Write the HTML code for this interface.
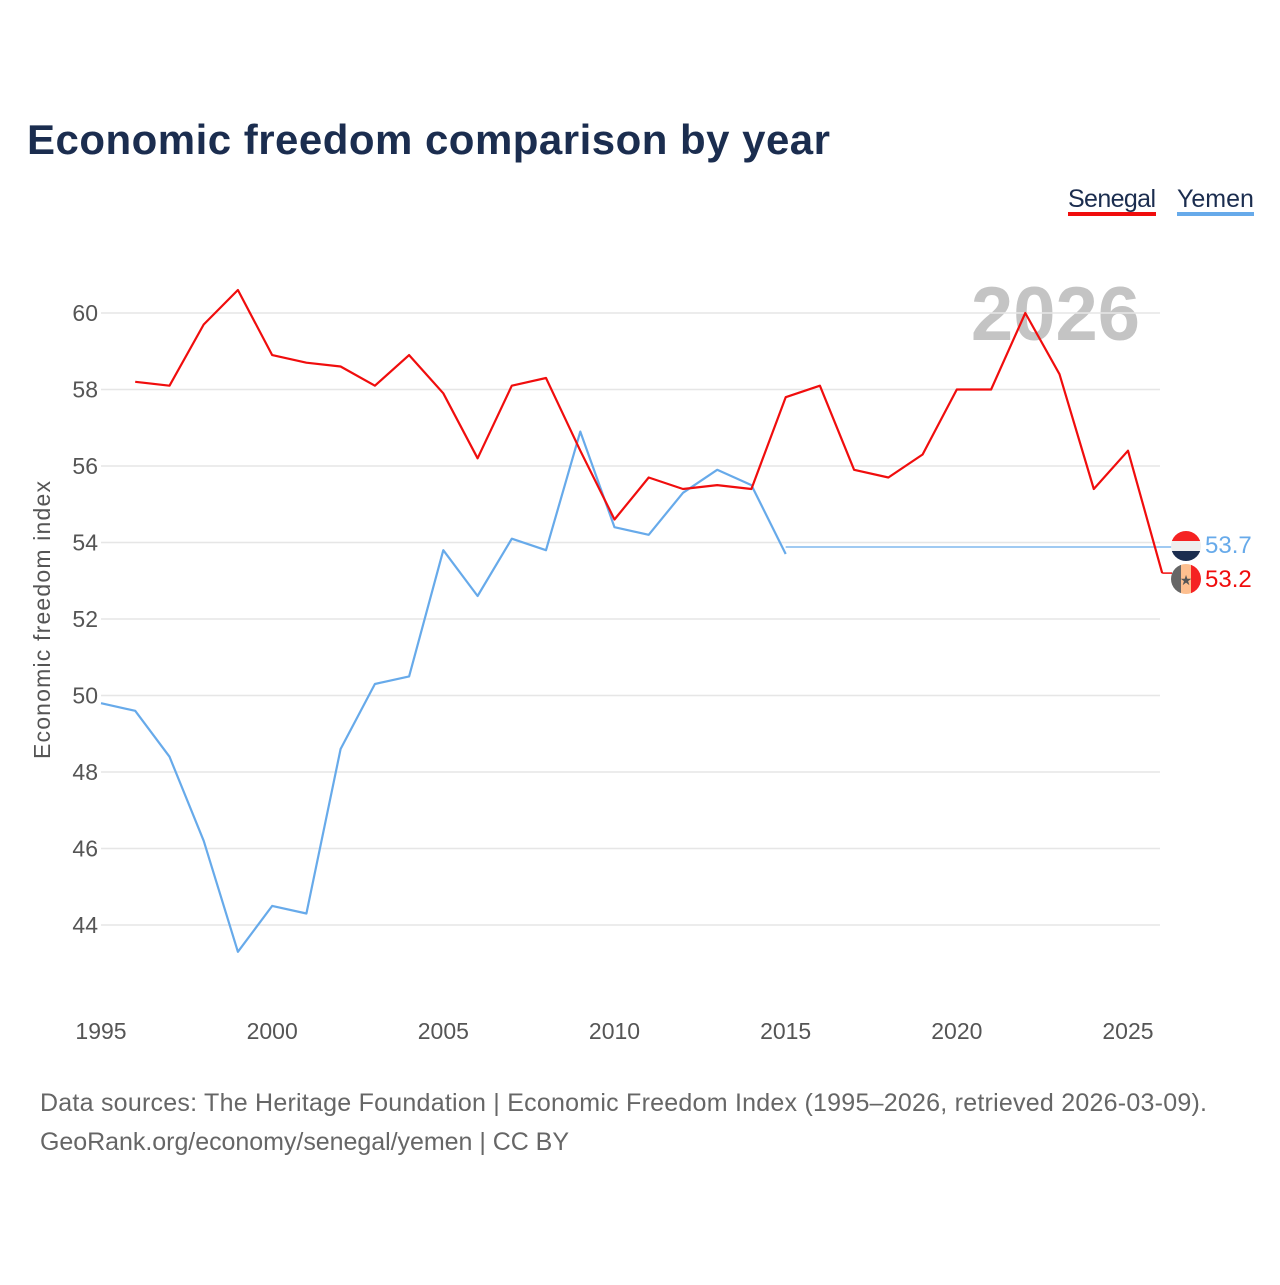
<!DOCTYPE html>
<html><head><meta charset="utf-8"><style>
body{margin:0;background:#fff;font-family:"Liberation Sans",sans-serif}
</style></head><body>
<svg width="1280" height="1280" xmlns="http://www.w3.org/2000/svg" id="chart">
<text x="27" y="154" font-size="42" font-weight="bold" fill="#1b2d4f" textLength="803">Economic freedom comparison by year</text>
<g>
<text x="1068" y="207" font-size="25" fill="#1b2d4f" textLength="88">Senegal</text>
<rect x="1068" y="212" width="88" height="4" fill="#f00d0d"/>
<text x="1177" y="207" font-size="25" fill="#1b2d4f">Yemen</text>
<rect x="1177" y="212" width="77" height="4" fill="#67aaea"/>
</g>
<text x="1140" y="340" font-size="76" font-weight="bold" fill="#c4c4c4" text-anchor="end">2026</text>
<g id="grid"></g><g id="axes"></g><g id="lines"></g>
<text transform="translate(50,620) rotate(-90)" font-size="23" fill="#555" text-anchor="middle" textLength="278">Economic freedom index</text>
<text x="40" y="1111" font-size="25" fill="#666" textLength="1167">Data sources: The Heritage Foundation | Economic Freedom Index (1995–2026, retrieved 2026-03-09).</text>
<text x="40" y="1150" font-size="25" fill="#666" textLength="529">GeoRank.org/economy/senegal/yemen | CC BY</text>
</svg>
<script>
const years=[1995,1996,1997,1998,1999,2000,2001,2002,2003,2004,2005,2006,2007,2008,2009,2010,2011,2012,2013,2014,2015,2016,2017,2018,2019,2020,2021,2022,2023,2024,2025,2026];
const senegal=[null,58.2,58.1,59.7,60.6,58.9,58.7,58.6,58.1,58.9,57.9,56.2,58.1,58.3,56.4,54.6,55.7,55.4,55.5,55.4,57.8,58.1,55.9,55.7,56.3,58.0,58.0,60.0,58.4,55.4,56.4,53.2];
const yemen=[49.8,49.6,48.4,46.2,43.3,44.5,44.3,48.6,50.3,50.5,53.8,52.6,54.1,53.8,56.9,54.4,54.2,55.3,55.9,55.5,53.7];
const yTicks=[44,46,48,50,52,54,56,58,60];
const xTicks=[1995,2000,2005,2010,2015,2020,2025];
const NS='http://www.w3.org/2000/svg';
const X=y=>101+(y-1995)*34.233;
const Y=v=>313+(60-v)*38.25;
function mk(t,a,p){const e=document.createElementNS(NS,t);for(const k in a)e.setAttribute(k,a[k]);document.getElementById(p).appendChild(e);return e;}
yTicks.forEach(v=>{
 const l=mk('line',{x1:101,x2:1160,y1:Y(v),y2:Y(v),stroke:'#e6e6e6','stroke-width':1.5},'grid');
 
 
 const t=mk('text',{x:98,y:Y(v)+8,'font-size':23,fill:'#555','text-anchor':'end'},'axes');t.textContent=v;
 
 
});
xTicks.forEach(v=>{
 const t=mk('text',{x:X(v),y:1039,'font-size':23,fill:'#555','text-anchor':'middle'},'axes');t.textContent=v;
 
 
});
function path(vals,col,name){let d='';vals.forEach((v,i)=>{if(v==null)return;d+=(d?'L':'M')+X(years[i]).toFixed(1)+' '+Y(v).toFixed(1);});
 const p=mk('path',{d:d,fill:'none',stroke:col,'stroke-width':2.2,'stroke-linejoin':'round'},'lines');
 
 }
const yl=yemen[yemen.length-1];
const h=mk('line',{x1:X(years[yemen.length-1]),x2:1172,y1:Y(yl)-7,y2:Y(yl)-7,stroke:'#67aaea','stroke-width':1.3},'lines');


path(yemen,'#67aaea','yemen-line');
path(senegal,'#f00d0d','senegal-line');
const sl=senegal[senegal.length-1];
const sh=mk('line',{x1:X(2026),x2:1172,y1:Y(sl),y2:Y(sl),stroke:'#f00d0d','stroke-width':1.5},'lines');


const g=document.getElementById('lines');
g.insertAdjacentHTML('beforeend',`
<defs><clipPath id="c1"><circle cx="1186" cy="546" r="15"/></clipPath><clipPath id="c2"><circle cx="1186" cy="579" r="15"/></clipPath></defs>
<g clip-path="url(#c1)"><rect x="1171" y="531" width="30" height="10" fill="#f52222"/><rect x="1171" y="541" width="30" height="10" fill="#eee"/><rect x="1171" y="551" width="30" height="10" fill="#1b2d4f"/></g>
<g clip-path="url(#c2)"><rect x="1171" y="564" width="10" height="30" fill="#666"/><rect x="1181" y="564" width="10" height="30" fill="#fdbf8f"/><rect x="1191" y="564" width="10" height="30" fill="#f52222"/><text x="1186" y="585" font-size="14" text-anchor="middle" fill="#555">★</text></g>
<text x="1205" y="553" font-size="24" fill="#67aaea">${yl.toFixed(1)}</text>
<text x="1205" y="587" font-size="24" fill="#f00d0d">${sl.toFixed(1)}</text>`);
</script>
</body></html>
